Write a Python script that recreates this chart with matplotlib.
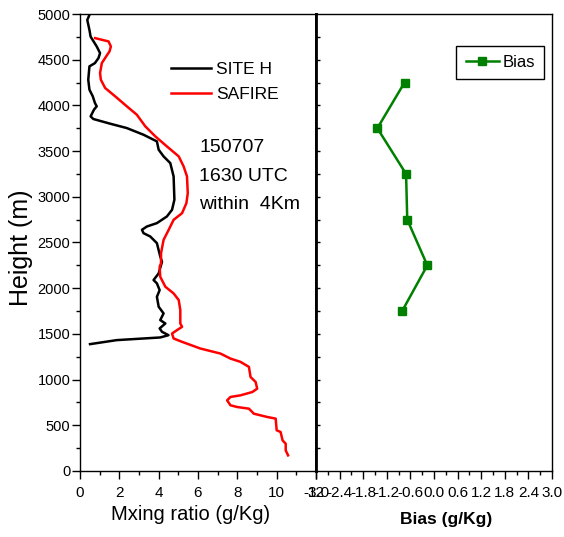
# mixing ratio profiles + bias
import matplotlib
matplotlib.use("Agg")
import matplotlib.pyplot as plt
import numpy as np

plt.rcParams['font.family'] = ['Liberation Sans', 'DejaVu Sans']
plt.rcParams['axes.unicode_minus'] = False

# SITE H sounding (g/Kg, m)
site_x = [0.48, 0.37, 0.48, 0.54, 0.85, 1.02, 0.94, 0.76, 0.48, 0.42, 0.48, 0.65, 0.76, 0.85, 0.71,
          0.54, 0.68, 1.53, 2.38, 3.23, 3.91, 4.0, 4.25, 4.59, 4.76, 4.80, 4.68, 4.42, 3.91, 3.40,
          3.15, 3.23, 3.57, 3.91, 4.08, 4.17, 4.0, 3.74, 3.91, 4.05, 3.91, 4.0, 4.25, 4.08, 4.34,
          4.05, 4.17, 4.5, 4.08, 1.87, 0.51]
site_h = [4990, 4935, 4825, 4752, 4645, 4572, 4518, 4463, 4427, 4281, 4172, 4099, 4026, 3990, 3953,
          3880, 3851, 3800, 3752, 3679, 3606, 3515, 3442, 3369, 3223, 2968, 2858, 2785, 2712, 2675,
          2639, 2602, 2566, 2493, 2347, 2289, 2162, 2089, 2053, 1979, 1906, 1797, 1724, 1651, 1614,
          1560, 1523, 1486, 1461, 1432, 1388]

# SAFIRE aircraft profile
saf_x = [0.77, 1.45, 1.57, 1.50, 1.33, 1.11, 1.02, 1.06, 1.28, 1.79, 2.38, 2.89, 3.32, 3.83, 4.42,
         5.02, 5.27, 5.44, 5.48, 5.41, 5.19, 4.76, 4.51, 4.25, 4.12, 4.12, 4.05, 4.08, 4.34, 4.76,
         5.02, 5.10, 5.10, 5.19, 4.93, 4.68, 4.76, 5.19, 6.12, 7.14, 7.65, 8.16, 8.59, 8.67, 8.93,
         9.01, 8.76, 8.16, 7.65, 7.48, 7.65, 7.99, 8.59, 8.84, 9.52, 9.95, 10.0, 10.2, 10.3, 10.46,
         10.46, 10.58]
saf_h = [4736, 4700, 4645, 4590, 4536, 4463, 4354, 4281, 4190, 4099, 3990, 3898, 3771, 3661, 3551,
         3442, 3332, 3223, 3040, 2931, 2821, 2748, 2639, 2529, 2383, 2274, 2235, 2125, 2016, 1943,
         1870, 1760, 1614, 1577, 1541, 1504, 1450, 1413, 1340, 1285, 1230, 1194, 1139, 1029, 974,
         901, 864, 828, 810, 773, 719, 700, 682, 627, 591, 573, 445, 427, 335, 299,
         226, 171]

bias_h = [4250, 3750, 3250, 2750, 2250, 1750]
bias_v = [-0.75, -1.44, -0.71, -0.68, -0.17, -0.81]

fig = plt.figure(figsize=(5.64, 5.37), dpi=100)
W, H = 564.0, 537.0
ax1 = fig.add_axes([80 / W, (H - 471) / H, 236 / W, 457 / H])
ax2 = fig.add_axes([316 / W, (H - 471) / H, 236 / W, 457 / H])

ax1.plot(site_x, site_h, color='black', lw=1.8, label='SITE H')
ax1.plot(saf_x, saf_h, color='red', lw=1.8, label='SAFIRE')
ax1.set_xlim(0, 12)
ax1.set_ylim(0, 5000)
ax1.set_xticks(np.arange(0, 13, 2))
ax1.set_xticks(np.arange(1, 12, 2), minor=True)
ax1.set_yticks(np.arange(0, 5001, 500))
ax1.set_yticks(np.arange(250, 5000, 500), minor=True)
ax1.tick_params(which='both', direction='out', width=1, top=False, right=False)
ax1.tick_params(axis='x', labelsize=11, pad=5)
ax1.tick_params(axis='y', labelsize=10.5, pad=1)
ax1.tick_params(which='major', length=6)
ax1.tick_params(which='minor', length=3)
for s in ax1.spines.values():
    s.set_linewidth(1.0)
ax1.spines['right'].set_linewidth(2.0)
ax1.set_xlabel('Mxing ratio (g/Kg)', fontsize=14.5)
ax1.xaxis.set_label_coords(0.47, -0.075)
ax1.set_ylabel('Height (m)', fontsize=18)
ax1.yaxis.set_label_coords(-0.2, 0.488)
ax1.legend(loc='upper left', bbox_to_anchor=(0.335, 0.922), frameon=False, fontsize=12.5,
           handlelength=2.3, handletextpad=0.3, labelspacing=0.55, borderpad=0.2)
ax1.text(0.505, 0.645, '150707\n1630 UTC\nwithin  4Km', transform=ax1.transAxes,
         fontsize=14, va='center', ha='left', linespacing=1.9)

ax2.plot(bias_v, bias_h, color='green', lw=1.8, marker='s', ms=6, label='Bias')
ax2.set_xlim(-3.0, 3.0)
ax2.set_ylim(0, 5000)
ax2.set_xticks(np.round(np.arange(-3.0, 3.01, 0.6), 1))
ax2.set_xticks(np.arange(-2.7, 3.0, 0.6), minor=True)
ax2.set_yticks(np.arange(250, 5000, 250))
ax2.set_yticklabels([])
ax2.xaxis.set_major_formatter(matplotlib.ticker.FormatStrFormatter('%.1f'))
ax2.tick_params(axis='x', which='both', direction='out', labelsize=11, width=1, pad=5)
ax2.tick_params(axis='x', which='major', length=6)
ax2.tick_params(axis='x', which='minor', length=3)
ax2.tick_params(axis='y', direction='in', length=3, width=1)
for s in ax2.spines.values():
    s.set_linewidth(1.0)
ax2.spines['left'].set_linewidth(2.0)
ax2.set_xlabel('Bias (g/Kg)', fontsize=12.5, fontweight='bold')
ax2.xaxis.set_label_coords(0.55, -0.09)
leg = ax2.legend(loc='upper right', bbox_to_anchor=(0.966, 0.93), fontsize=12, fancybox=False,
                 edgecolor='black', framealpha=1, borderaxespad=0, handlelength=2.0,
                 handletextpad=0.2, borderpad=0.55)
leg.get_frame().set_linewidth(1.0)

fig.savefig('out.png', dpi=100)
